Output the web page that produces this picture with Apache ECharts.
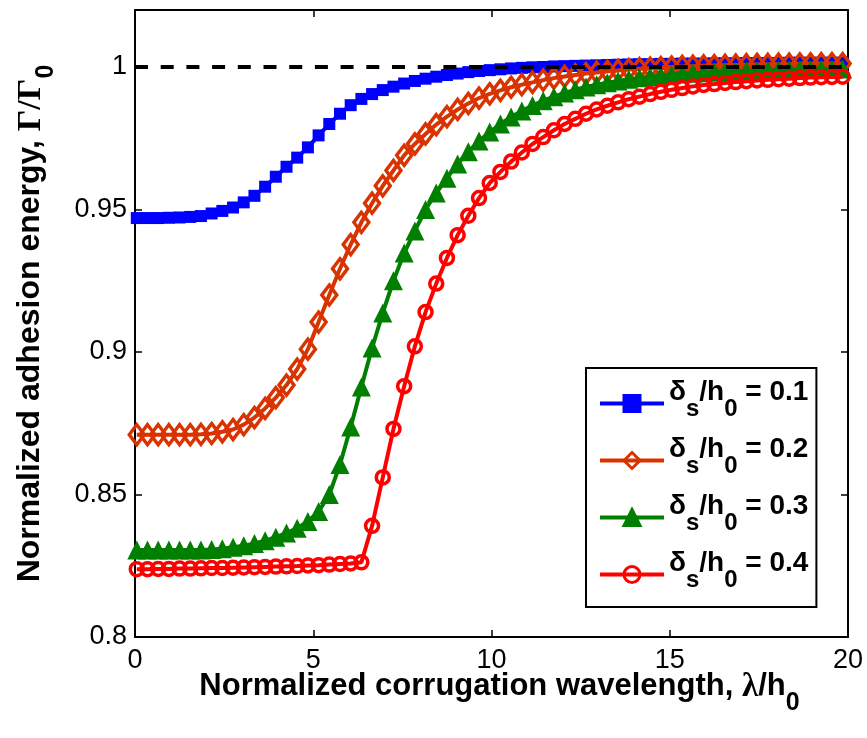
<!DOCTYPE html>
<html><head><meta charset="utf-8">
<script src="https://cdn.jsdelivr.net/npm/echarts@6/dist/echarts.min.js"></script>
<style>html,body{margin:0;padding:0;background:#fff}#c{width:867px;height:738px}</style>
</head><body><div id="c"></div>
<script>
// Normalized corrugation wavelength (lambda/h0) sample points
const xs = [0.05,0.35,0.65,0.95,1.25,1.55,1.85,2.15,2.45,2.75,3.05,3.35,3.65,3.95,4.25,4.55,4.85,5.15,5.45,5.75,6.05,6.35,6.65,6.95,7.25,7.55,7.85,8.15,8.45,8.75,9.05,9.35,9.65,9.95,10.25,10.55,10.85,11.15,11.45,11.75,12.05,12.35,12.65,12.95,13.25,13.55,13.85,14.15,14.45,14.75,15.05,15.35,15.65,15.95,16.25,16.55,16.85,17.15,17.45,17.75,18.05,18.35,18.65,18.95,19.25,19.55,19.85];

const ds01 = [0.9470,0.9470,0.9470,0.9471,0.9472,0.9474,0.9477,
0.9486,0.9495,0.9507,0.9525,0.9548,0.9580,0.9615,
0.9650,0.9682,0.9718,0.9760,0.9800,0.9836,0.9866,
0.9888,0.9905,0.9919,0.9931,0.9942,0.9951,0.9959,
0.9966,0.9972,0.9977,0.9982,0.9986,0.9989,0.9992,
0.9995,0.9997,0.9999,1.0000,1.0002,1.0003,1.0004,
1.0005,1.0006,1.0007,1.0008,1.0009,1.0010,1.0010,
1.0011,1.0011,1.0012,1.0012,1.0012,1.0013,1.0013,
1.0013,1.0014,1.0014,1.0014,1.0014,1.0015,1.0015,
1.0015,1.0015,1.0015,1.0015];

const ds02 = [0.8710,0.8710,0.8710,0.8710,0.8710,0.8710,0.8711,
0.8714,0.8720,0.8728,0.8745,0.8770,0.8802,0.8840,
0.8884,0.8940,0.9010,0.9105,0.9200,0.9292,0.9377,
0.9455,0.9522,0.9583,0.9637,0.9690,0.9730,0.9765,
0.9798,0.9826,0.9851,0.9872,0.9891,0.9906,0.9918,
0.9929,0.9938,0.9946,0.9954,0.9961,0.9967,0.9972,
0.9977,0.9981,0.9985,0.9988,0.9991,0.9994,0.9996,
0.9998,1.0000,1.0002,1.0003,1.0004,1.0005,1.0006,
1.0007,1.0008,1.0009,1.0009,1.0010,1.0010,1.0011,
1.0011,1.0012,1.0012,1.0012];

const ds03 = [0.8305,0.8305,0.8305,0.8305,0.8305,0.8305,0.8305,
0.8307,0.8310,0.8315,0.8320,0.8328,0.8338,0.8350,
0.8365,0.8382,0.8405,0.8440,0.8500,0.8605,0.8737,
0.8877,0.9014,0.9137,0.9250,0.9347,0.9425,0.9500,
0.9558,0.9610,0.9660,0.9703,0.9740,0.9772,0.9800,
0.9825,0.9846,0.9865,0.9882,0.9896,0.9909,0.9920,
0.9930,0.9938,0.9945,0.9951,0.9957,0.9962,0.9966,
0.9970,0.9973,0.9976,0.9978,0.9980,0.9982,0.9984,
0.9985,0.9986,0.9987,0.9988,0.9989,0.9990,0.9991,
0.9991,0.9992,0.9992,0.9993];

const ds04 = [0.8238,0.8238,0.8239,0.8239,0.8240,0.8240,0.8241,
0.8242,0.8242,0.8243,0.8244,0.8245,0.8246,0.8247,
0.8248,0.8249,0.8251,0.8252,0.8254,0.8256,0.8258,
0.8262,0.8390,0.8560,0.8730,0.8880,0.9020,0.9140,
0.9240,0.9330,0.9410,0.9478,0.9540,0.9593,0.9632,
0.9668,0.9700,0.9730,0.9754,0.9778,0.9800,0.9818,
0.9836,0.9851,0.9864,0.9876,0.9887,0.9896,0.9905,
0.9913,0.9920,0.9926,0.9932,0.9937,0.9940,0.9944,
0.9947,0.9950,0.9953,0.9955,0.9957,0.9959,0.9961,
0.9963,0.9964,0.9965,0.9966];

const refX = [0, 20];
const refY = [1, 1];

const legendValues = ['0.1', '0.2', '0.3', '0.4'];
const seriesNames = ['δs/h0 = 0.1', 'δs/h0 = 0.2', 'δs/h0 = 0.3', 'δs/h0 = 0.4'];

const xMin = 0, xMax = 20, xStep = 5;
const yMin = 0.8, yMax = 1.02, yStep = 0.05;

const SANS = 'Liberation Sans, Arial, sans-serif';
const SERIF = 'Liberation Serif, Times New Roman, serif';

function pairs(x, y) { return x.map((v, i) => [v, y[i]]); }

function richTitle(main, greek, sub) {
  return {
    a: { fontSize: main, fontWeight: 'bold', fontFamily: SANS, color: '#000', verticalAlign: 'top' },
    g: { fontSize: greek, fontWeight: 'bold', fontFamily: SERIF, color: '#000', verticalAlign: 'top' },
    s: { fontSize: sub, fontWeight: 'bold', fontFamily: SANS, color: '#000', verticalAlign: 'top', padding: [20, 0, 8, 0] }
  };
}
const richLegend = {
  a: { fontSize: 28, fontWeight: 'bold', fontFamily: SANS, color: '#000', verticalAlign: 'top' },
  s: { fontSize: 24, fontWeight: 'bold', fontFamily: SANS, color: '#000', verticalAlign: 'top', padding: [19, 0, 8, 0] }
};

const chart = echarts.init(document.getElementById('c'), null, { renderer: 'canvas' });

const colors = ['#0000FF', '#D93300', '#007F00', '#FF0000'];
const dataSets = [ds01, ds02, ds03, ds04];
const symbols = ['rect', 'diamond', 'triangle', 'circle'];
const symbolSizes = [12, [15, 20], 19, 13];
const fills = ['#0000FF', 'rgba(255,255,255,0)', '#007F00', 'rgba(255,255,255,0)'];
const borderW = [0, 3.5, 0, 3.5];

const series = dataSets.map((d, i) => ({
  name: seriesNames[i],
  type: 'line',
  data: pairs(xs, d),
  symbol: symbols[i],
  symbolSize: symbolSizes[i],
  showAllSymbol: true,
  clip: false,
  lineStyle: { color: colors[i], width: 4 },
  itemStyle: { color: fills[i], borderColor: colors[i], borderWidth: borderW[i] },
  z: 2 + i
}));

series.push({
  name: 'ref',
  type: 'line',
  data: pairs(refX, refY),
  symbol: 'none',
  silent: true,
  lineStyle: { color: '#000', width: 4, type: [13, 12.7] },
  z: 10
});

const axisCommon = {
  type: 'value',
  axisLine: { show: true, onZero: false, lineStyle: { color: '#000', width: 2 } },
  axisTick: { show: true, inside: true, length: 7, lineStyle: { color: '#000', width: 1.5 } },
  splitLine: { show: false }
};

chart.setOption({
  animation: false,
  backgroundColor: '#fff',
  grid: { left: 135, right: 19, top: 10, bottom: 101, containLabel: false, outerBoundsMode: 'none' },
  xAxis: [
    Object.assign({}, axisCommon, {
      position: 'bottom', min: xMin, max: xMax, interval: xStep,
      axisLabel: { color: '#000', fontSize: 27, fontFamily: SANS, margin: 10 },
      name: '{a|Normalized corrugation wavelength, }{g|λ}{a|/h}{s|0}',
      nameLocation: 'middle', nameGap: 34, nameMoveOverlap: false,
      nameTextStyle: { rich: richTitle(31, 33, 25), padding: [0, 0, 0, 16] }
    }),
    Object.assign({}, axisCommon, {
      position: 'top', min: xMin, max: xMax, interval: xStep,
      axisLabel: { show: false }
    })
  ],
  yAxis: [
    Object.assign({}, axisCommon, {
      position: 'left', min: yMin, max: yMax, interval: yStep,
      axisLabel: { color: '#000', fontSize: 27, fontFamily: SANS, margin: 8, showMaxLabel: false },
      name: '{a|Normalized adhesion energy, }{g|Γ/Γ}{s|0}',
      nameLocation: 'middle', nameRotate: 90, nameGap: 68, nameMoveOverlap: false,
      nameTextStyle: { rich: richTitle(32, 34, 25) }
    }),
    Object.assign({}, axisCommon, {
      position: 'right', min: yMin, max: yMax, interval: yStep,
      axisLabel: { show: false }
    })
  ],
  legend: {
    data: seriesNames,
    orient: 'vertical',
    left: 586, top: 368,
    padding: [10, 8, 15, 12],
    itemWidth: 64, itemHeight: 20, itemGap: 14,
    borderColor: '#000', borderWidth: 2,
    backgroundColor: '#fff',
    selectedMode: false,
    lineStyle: { width: 4 },
    itemStyle: { borderWidth: 3 },
    formatter: function (name) {
      const v = legendValues[seriesNames.indexOf(name)];
      return '{a|δ}{s|s}{a|/h}{s|0}{a| = ' + v + '}';
    },
    textStyle: { rich: richLegend }
  },
  series: series
});
</script>
</body></html>
